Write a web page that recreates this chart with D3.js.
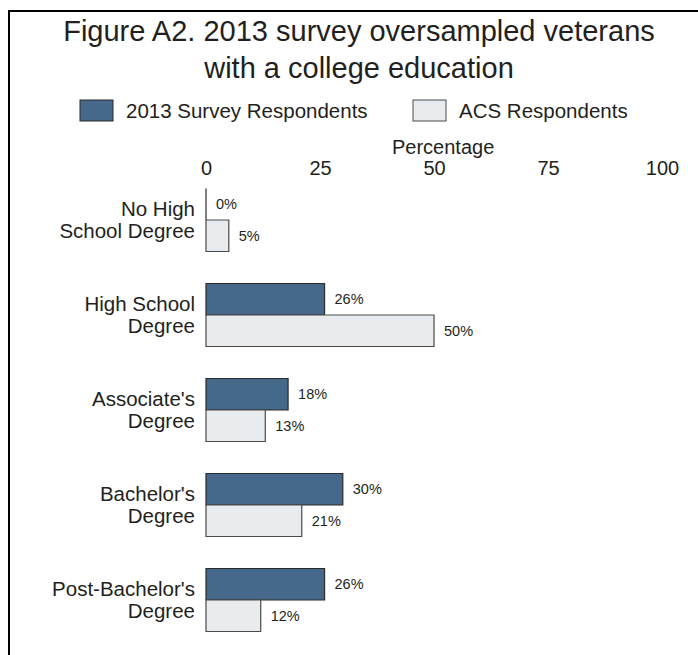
<!DOCTYPE html>
<html>
<head>
<meta charset="utf-8">
<script src="https://cdn.jsdelivr.net/npm/d3@7/dist/d3.min.js"></script>
<style>
  html, body { margin: 0; padding: 0; background: #fff; }
  svg { display: block; font-family: "Liberation Sans", Arial, Helvetica, sans-serif; }
  text { fill: #231f20; }
</style>
</head>
<body>
<div id="chart"></div>
<script>
// Education level of respondents, in percent
const categories = [
  ["No High", "School Degree"],
  ["High School", "Degree"],
  ["Associate's", "Degree"],
  ["Bachelor's", "Degree"],
  ["Post-Bachelor's", "Degree"]
];
const seriesNames = ["2013 Survey Respondents", "ACS Respondents"];
const survey2013 = [0, 26, 18, 30, 26];
const acs = [5, 50, 13, 21, 12];
const xTicks = [0, 25, 50, 75, 100];
const titleLines = ["Figure A2. 2013 survey oversampled veterans", "with a college education"];

const W = 698, H = 655;
const colors = { fill: ["#46688b", "#e8ecef"], stroke: ["#2b2b2b", "#4a4a4a"] };

const svg = d3.select("#chart").append("svg").attr("width", W).attr("height", H);

// Frame: left and top rules
svg.append("line").attr("x1", 9).attr("x2", 9).attr("y1", 10).attr("y2", H)
  .attr("stroke", "#000").attr("stroke-width", 2);
svg.append("line").attr("x1", 8).attr("x2", W).attr("y1", 11).attr("y2", 11)
  .attr("stroke", "#000").attr("stroke-width", 2);

// Title
svg.append("g").selectAll("text").data(titleLines).join("text")
  .attr("x", 359).attr("y", (d, i) => 41 + i * 37)
  .attr("text-anchor", "middle").attr("font-size", 29).text(d => d);

// Legend
const legendX = [80, 413];
const lg = svg.append("g").selectAll("g").data(seriesNames).join("g")
  .attr("transform", (d, i) => `translate(${legendX[i]},100)`);
lg.append("rect").attr("width", 33).attr("height", 21)
  .attr("fill", (d, i) => colors.fill[i]).attr("stroke", (d, i) => colors.stroke[i]).attr("stroke-width", 1);
lg.append("text").attr("x", 46).attr("y", 18).attr("font-size", 20.5).text(d => d);

// Scales
const x = d3.scaleLinear().domain([0, 100]).range([206, 662]);
const y = d3.scaleBand().domain(d3.range(categories.length)).range([172.5, 647.5])
  .paddingInner(0.337).paddingOuter(0.337 / 2);
const ySub = d3.scaleBand().domain([0, 1]).range([0, y.bandwidth()]);

// Top axis
const axis = svg.append("g").attr("transform", "translate(0,182)")
  .call(d3.axisTop(x).tickValues(xTicks).tickSize(0).tickPadding(0));
axis.select(".domain").remove();
axis.selectAll("text").attr("font-size", 20).attr("font-family", null).attr("fill", "#231f20")
  .attr("dy", "-0.35em");
svg.append("text").attr("x", x(52)).attr("y", 154).attr("text-anchor", "middle")
  .attr("font-size", 20).text("Percentage");

// Category labels
svg.append("g").selectAll("text").data(categories).join("text")
  .attr("text-anchor", "end").attr("font-size", 20.5)
  .attr("transform", (d, i) => `translate(195,${y(i) + y.bandwidth() / 2})`)
  .selectAll("tspan").data(d => d).join("tspan")
  .attr("x", 0).attr("y", (d, j) => -4 + j * 21.5).text(d => d);

// Bars
const series = [survey2013, acs];
const rows = [];
series.forEach((vals, s) => vals.forEach((v, i) => rows.push({ s, i, v })));
const barPath = d => {
  const x0 = x(0), x1 = x(d.v), y0 = y(d.i) + ySub(d.s), y1 = y0 + ySub.bandwidth();
  return `M${x0},${y0}H${x1}V${y1}H${x0}Z`;
};
svg.append("g").selectAll("path").data(rows).join("path")
  .attr("d", barPath)
  .attr("fill", d => colors.fill[d.s])
  .attr("stroke", d => colors.stroke[d.s])
  .attr("stroke-width", 1.2);

// Value labels
svg.append("g").selectAll("text").data(rows).join("text")
  .attr("x", d => x(d.v) + 10)
  .attr("y", d => y(d.i) + ySub(d.s) + ySub.bandwidth() / 2 + 5)
  .attr("font-size", 14.5).text(d => d.v + "%");
</script>
</body>
</html>
